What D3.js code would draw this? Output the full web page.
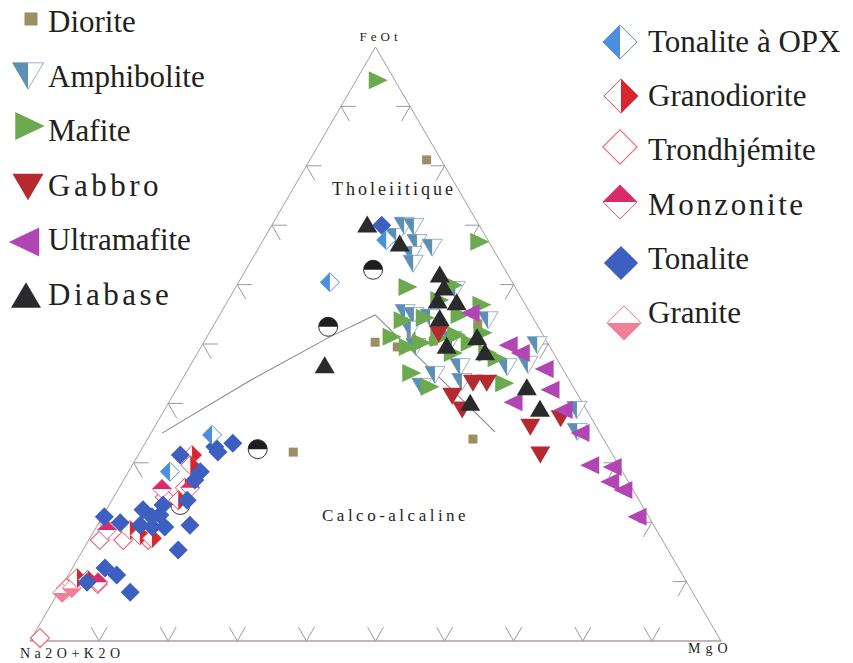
<!DOCTYPE html>
<html>
<head>
<meta charset="utf-8">
<script src="https://cdn.jsdelivr.net/npm/d3@7/dist/d3.min.js"></script>
<style>
  body { margin: 0; background: #fff; }
  text { font-family: "Liberation Serif", "Times New Roman", serif; fill: #231f20; }
</style>
</head>
<body>
<svg id="canvas" width="853" height="663"></svg>
<script>
// Values are [Na2O+K2O, FeOt, MgO] in %.

let diorite = [[2.1, 81.0, 16.9], [24.9, 50.3, 24.8], [22.1, 49.5, 28.4], [19.2, 51.3, 29.5],
  [16.4, 50.5, 33.1], [8.5, 53.4, 38.1], [18.9, 34.0, 47.1], [46.0, 31.8, 22.2]]

let amphibolite = [[13.0, 68.0, 19.0], [10.9, 69.9, 19.2], [9.6, 69.7, 20.7], [10.5, 67.0, 22.5],
  [8.7, 66.2, 25.1], [12.2, 65.0, 22.8], [12.8, 63.5, 23.7], [18.1, 55.2, 26.7], [17.1, 54.7, 28.2],
  [14.9, 54.4, 30.7], [6.7, 54.0, 39.3], [18.7, 52.4, 28.9], [19.4, 49.5, 31.1], [13.6, 50.7, 35.7],
  [14.7, 46.1, 39.2], [7.9, 46.1, 46.0], [19.0, 44.8, 36.2], [21.9, 42.8, 35.3], [15.7, 43.6, 40.7],
  [4.7, 46.5, 48.8], [1.7, 49.8, 48.5], [3.2, 35.2, 61.6], [1.4, 38.9, 59.7], [8.9, 59.1, 32.0]]

let mafite = [[2.4, 94.4, 3.2], [1.3, 67.2, 31.5], [15.5, 59.6, 24.9], [8.8, 59.9, 31.3],
  [6.3, 56.6, 37.1], [10.3, 54.9, 34.8], [15.6, 54.4, 30.0], [19.0, 54.0, 27.0], [22.0, 51.2, 26.8],
  [20.5, 49.5, 30.0], [12.0, 57.4, 30.6], [12.5, 51.5, 36.0], [8.5, 51.9, 39.6], [15.2, 51.0, 33.8],
  [11.2, 50.2, 38.6], [8.6, 47.6, 43.8], [22.2, 45.1, 32.7], [20.7, 42.8, 36.5], [9.6, 43.4, 47.0],
  [9.5, 48.5, 42.0], [14.5, 48.5, 37.0], [18.2, 50.2, 31.6]]

let gabbro = [[15.0, 51.7, 33.3], [14.2, 43.4, 42.4], [12.2, 43.4, 44.4], [18.3, 41.2, 40.5],
  [18.0, 38.9, 43.1], [9.6, 36.0, 54.4], [10.5, 31.3, 58.2], [4.5, 37.4, 58.1]]

let ultramafite = [[8.7, 55.2, 36.1], [5.9, 49.8, 44.3], [4.8, 48.5, 46.7], [2.7, 45.8, 51.5],
  [3.6, 42.3, 54.1], [10.0, 40.2, 49.8], [3.4, 38.9, 57.7], [2.9, 35.0, 62.1], [4.2, 29.6, 66.2],
  [1.1, 29.3, 69.6], [2.7, 26.8, 70.5], [1.5, 25.4, 73.1], [1.7, 20.9, 77.4]]

let diabase = [[16.1, 70.2, 13.7], [13.0, 67.0, 20.0], [9.8, 61.8, 28.4], [10.3, 59.6, 30.1],
  [12.3, 57.4, 30.3], [9.7, 57.1, 33.2], [13.5, 54.4, 32.1], [14.8, 49.8, 35.4], [9.7, 51.2, 39.1],
  [9.8, 48.7, 41.5], [16.2, 40.2, 43.6], [6.7, 42.8, 50.5], [6.6, 39.2, 54.2], [34.1, 46.5, 19.4]]

let autres = [[19.1, 62.5, 18.4], [30.4, 52.9, 16.7], [50.9, 32.3, 16.8], [66.8, 22.9, 10.3]]

let tonaliteOpx = [[26.4, 60.4, 13.2], [14.7, 67.5, 17.8], [56.3, 34.7, 9.0], [65.5, 28.5, 6.0]]

let granodiorite = [[60.9, 31.3, 7.8], [64.7, 25.8, 9.5], [66.7, 23.7, 9.6], [76.2, 18.7, 5.1],
  [75.2, 17.8, 7.0], [73.7, 17.3, 9.0], [87.9, 10.6, 1.5], [86.5, 10.3, 3.2], [62.0, 29.6, 8.4]]

let trondhjemite = [[98.3, 0.5, 1.2], [85.4, 9.6, 5.0], [78.0, 17.0, 5.0], [74.4, 17.0, 8.6],
  [81.4, 17.0, 1.6], [68.4, 24.2, 7.4], [90.3, 8.9, 0.8]]

let monzonite = [[68.1, 25.6, 6.3], [79.5, 18.7, 1.8], [85.2, 9.9, 4.9], [63.9, 25.8, 10.3]]

let tonalite = [[14.1, 70.0, 15.9], [78.8, 20.9, 0.3], [62.6, 31.3, 6.1], [56.9, 32.7, 10.4],
  [54.0, 33.3, 12.7], [56.9, 31.8, 11.3], [61.1, 28.5, 10.4], [62.6, 27.1, 10.3], [72.6, 22.1, 5.3],
  [71.9, 20.9, 7.2], [70.6, 21.2, 8.2], [72.7, 19.2, 8.1], [74.3, 19.5, 6.2], [77.0, 19.9, 3.1],
  [67.1, 19.5, 13.4], [70.9, 15.3, 13.8], [83.0, 12.3, 4.7], [81.9, 11.1, 7.0], [81.4, 8.2, 10.4],
  [86.8, 9.9, 3.3], [65.4, 23.7, 10.9], [69.3, 22.9, 7.8], [70.9, 19.2, 9.9]]

let granite = [[91.3, 8.1, 0.6], [89.5, 8.9, 1.6]]

// Irvine & Baragar boundary
let boundaryA = [63.4, 46.3, 31.0, 22.6, 15.1]
let boundaryF = [35.0, 43.8, 51.2, 54.9, 35.2]
let boundaryM = [1.6, 9.9, 17.8, 22.5, 49.7]

let tickValues = [10, 20, 30, 40, 50, 60, 70, 80, 90]

let leftLegend = ['Diorite', 'Amphibolite', 'Mafite', 'Gabbro', 'Ultramafite', 'Diabase']
let rightLegend = ['Tonalite à OPX', 'Granodiorite', 'Trondhjémite', 'Monzonite', 'Tonalite', 'Granite']

let canvas = d3.select('#canvas')

let x = d3.scaleLinear().domain([0, 100]).range([30, 721])
let y = d3.scaleLinear().domain([0, 100]).range([641, 47])

let project = (d) => {
  let s = d[0] + d[1] + d[2]
  let f = d[1] / s * 100
  let m = d[2] / s * 100
  return [x(m + f / 2), y(f)]
}

let poly = (pts) => 'M' + pts.map(p => p.join(',')).join('L') + 'Z'

// marker shapes, k = scale (1 in plot, bigger in legend)
let shapes = {
  diorite: (g, k) => {
    let s = 9 * k
    g.append('rect').attr('x', -s / 2).attr('y', -s / 2).attr('width', s).attr('height', s)
      .attr('fill', '#9b9160')
  },
  amphibolite: (g, k) => {
    let w = 20 * k, h = 17 * k
    g.append('path').attr('d', poly([[-w / 2, -h / 2], [w / 2, -h / 2], [0, h / 2]]))
      .attr('fill', '#fff').attr('stroke', '#7f9fb6').attr('stroke-width', 0.8)
    g.append('path').attr('d', poly([[-w / 2, -h / 2], [0, -h / 2], [0, h / 2]]))
      .attr('fill', '#5c8fb3')
  },
  mafite: (g, k) => {
    let w = 19 * k, h = 18 * k
    g.append('path').attr('d', poly([[-w / 2, -h / 2], [w / 2, 0], [-w / 2, h / 2]]))
      .attr('fill', '#6caa50')
  },
  gabbro: (g, k) => {
    let w = 20 * k, h = 17 * k
    g.append('path').attr('d', poly([[-w / 2, -h / 2], [w / 2, -h / 2], [0, h / 2]]))
      .attr('fill', '#b52a30')
  },
  ultramafite: (g, k) => {
    let w = 19 * k, h = 18 * k
    g.append('path').attr('d', poly([[w / 2, -h / 2], [-w / 2, 0], [w / 2, h / 2]]))
      .attr('fill', '#b045b3')
  },
  diabase: (g, k) => {
    let w = 20 * k, h = 17 * k
    g.append('path').attr('d', poly([[-w / 2, h / 2], [w / 2, h / 2], [0, -h / 2]]))
      .attr('fill', '#2a2a2c')
  },
  opx: (g, k) => {
    let r = 9.5 * k
    g.append('path').attr('d', poly([[-r, 0], [0, -r], [r, 0], [0, r]]))
      .attr('fill', '#fff').attr('stroke', '#4a8fe0').attr('stroke-width', 1)
    g.append('path').attr('d', poly([[-r, 0], [0, -r], [0, r]])).attr('fill', '#4a8fe0')
  },
  granodiorite: (g, k) => {
    let r = 9.5 * k
    g.append('path').attr('d', poly([[-r, 0], [0, -r], [r, 0], [0, r]]))
      .attr('fill', '#fff').attr('stroke', '#e5505a').attr('stroke-width', 1)
    g.append('path').attr('d', poly([[0, -r], [r, 0], [0, r]])).attr('fill', '#d8262e')
  },
  trondhjemite: (g, k) => {
    let r = 9.5 * k
    g.append('path').attr('d', poly([[-r, 0], [0, -r], [r, 0], [0, r]]))
      .attr('fill', '#fff').attr('stroke', '#ee6f7a').attr('stroke-width', 1.2)
  },
  monzonite: (g, k) => {
    let r = 9.5 * k
    g.append('path').attr('d', poly([[-r, 0], [0, -r], [r, 0], [0, r]]))
      .attr('fill', '#fff').attr('stroke', '#e4508a').attr('stroke-width', 1)
    g.append('path').attr('d', poly([[-r, 0], [0, -r], [r, 0]])).attr('fill', '#d92a6c')
  },
  tonalite: (g, k) => {
    let r = 9.5 * k
    g.append('path').attr('d', poly([[-r, 0], [0, -r], [r, 0], [0, r]])).attr('fill', '#3d5fbf')
  },
  granite: (g, k) => {
    let r = 9.5 * k
    g.append('path').attr('d', poly([[-r, 0], [0, -r], [r, 0], [0, r]]))
      .attr('fill', '#fff').attr('stroke', '#f07b92').attr('stroke-width', 1)
    g.append('path').attr('d', poly([[-r, 0], [r, 0], [0, r]])).attr('fill', '#f27f98')
  },
  autres: (g, k) => {
    let r = 9.5 * k
    g.append('circle').attr('r', r).attr('fill', '#fff').attr('stroke', '#333').attr('stroke-width', 1)
    g.append('path').attr('d', 'M' + (-r) + ',0A' + r + ',' + r + ' 0 0 1 ' + r + ',0Z').attr('fill', '#1e1e1e')
  }
}

// ---- triangle frame
let A = project([100, 0, 0]), F = project([0, 100, 0]), M = project([0, 0, 100])

canvas.append('line').attr('x1', A[0]).attr('y1', A[1]).attr('x2', F[0]).attr('y2', F[1])
  .attr('stroke', '#a0a0a0').attr('stroke-width', 1)
canvas.append('line').attr('x1', F[0]).attr('y1', F[1]).attr('x2', M[0]).attr('y2', M[1])
  .attr('stroke', '#a0a0a0').attr('stroke-width', 1)
canvas.append('line').attr('x1', A[0]).attr('y1', A[1]).attr('x2', M[0]).attr('y2', M[1])
  .attr('stroke', '#8d6b72').attr('stroke-width', 1.2)

// ticks
let c60 = Math.cos(Math.PI / 3), s60 = Math.sin(Math.PI / 3)
let tickG = canvas.append('g').attr('stroke', '#9a9a9a').attr('stroke-width', 1).attr('fill', 'none')
tickValues.forEach(v => {
  let p = project([100 - v, 0, v])
  tickG.append('path').attr('d', 'M' + (p[0] - 16 * c60) + ',' + (p[1] - 16 * s60) + 'L' + p[0] + ',' + p[1] +
    'L' + (p[0] + 16 * c60) + ',' + (p[1] - 16 * s60))
  let q = project([100 - v, v, 0])
  tickG.append('path').attr('d', 'M' + (q[0] + 15) + ',' + q[1] + 'L' + q[0] + ',' + q[1] +
    'L' + (q[0] + 17 * c60) + ',' + (q[1] + 17 * s60))
  let r = project([0, v, 100 - v])
  tickG.append('path').attr('d', 'M' + (r[0] - 14) + ',' + r[1] + 'L' + r[0] + ',' + r[1] +
    'L' + (r[0] - 17 * c60) + ',' + (r[1] + 17 * s60))
})

// boundary line
let boundary = boundaryA.map((a, i) => project([a, boundaryF[i], boundaryM[i]]))
canvas.append('path').attr('d', d3.line()(boundary))
  .attr('fill', 'none').attr('stroke', '#8a8a8a').attr('stroke-width', 1.1)

// ---- points
let layers = [
  ['diorite', diorite], ['amphibolite', amphibolite], ['mafite', mafite], ['gabbro', gabbro],
  ['ultramafite', ultramafite], ['diabase', diabase], ['autres', autres],
  ['trondhjemite', trondhjemite], ['granite', granite], ['granodiorite', granodiorite],
  ['monzonite', monzonite], ['tonalite', tonalite], ['opx', tonaliteOpx]
]

layers.forEach(([type, data]) => {
  canvas.append('g').selectAll('g')
    .data(data)
    .enter()
    .append('g')
    .attr('transform', d => 'translate(' + project(d).join(',') + ')')
    .each(function () { shapes[type](d3.select(this), 1) })
})

// ---- labels
let label = (t, px, py, size, sp) => canvas.append('text').text(t).attr('x', px).attr('y', py)
  .attr('font-size', size).attr('letter-spacing', sp)

label('FeOt', F[0] - 16, F[1] - 6, 13, 4)
label('Na2O+K2O', A[0] - 10, A[1] + 17, 14, 4.5)
label('MgO', M[0] - 33, M[1] + 12, 14, 5)
label('Tholeiitique', 332, 195, 18, 3)
label('Calco-alcaline', 322, 521, 17, 3.5)

// ---- legends
let leftTypes = ['diorite', 'amphibolite', 'mafite', 'gabbro', 'ultramafite', 'diabase']
let leftMarks = [[31, 19, 1.45], [28, 76, 1.55], [30, 126, 1.55], [28, 187, 1.55], [24, 242, 1.6], [26, 295, 1.5]]
let leftSpacing = [0, 0, 0, 3.5, 0, 3.5]
leftLegend.forEach((name, i) => {
  let g = canvas.append('g').attr('transform', 'translate(' + leftMarks[i][0] + ',' + leftMarks[i][1] + ')')
  shapes[leftTypes[i]](g, leftMarks[i][2])
  label(name, 48, 32 + i * 54.6, 31, leftSpacing[i])
})

let rightTypes = ['opx', 'granodiorite', 'trondhjemite', 'monzonite', 'tonalite', 'granite']
let rightMarks = [[620, 42], [621, 96], [620, 147], [620, 202], [621, 263], [624, 323]]
let rightSpacing = [0, 0, 0, 2.6, 0, 0]
rightLegend.forEach((name, i) => {
  let g = canvas.append('g').attr('transform', 'translate(' + rightMarks[i][0] + ',' + rightMarks[i][1] + ')')
  shapes[rightTypes[i]](g, 1.8)
  label(name, 648, 52 + i * 54.2, 31, rightSpacing[i])
})
</script>
</body>
</html>
